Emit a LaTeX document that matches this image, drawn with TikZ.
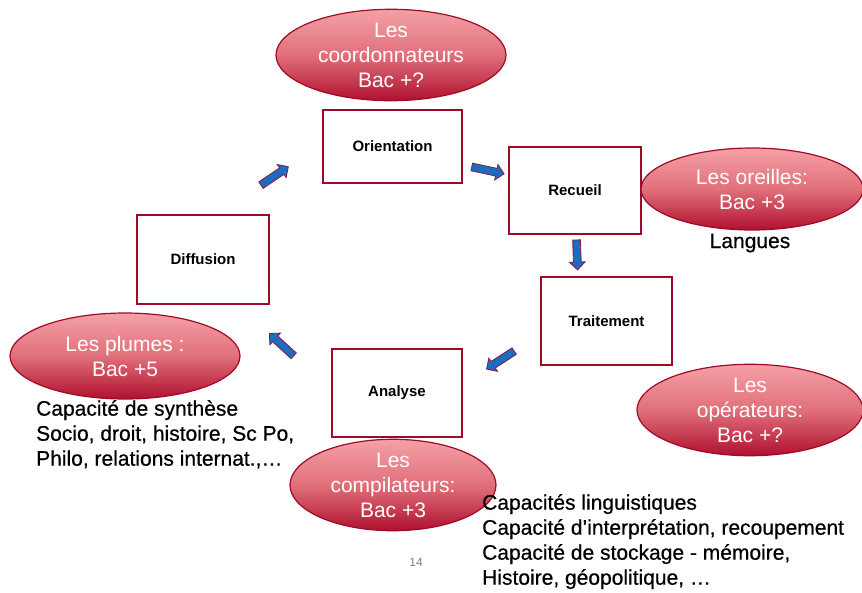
\documentclass[tikz,border=0pt]{standalone}
\usepackage{fontspec}
\setmainfont{Liberation Sans}
\newfontfamily\heavyfont[FakeBold=0.6]{Liberation Sans}
\usetikzlibrary{shapes.geometric,shapes.arrows}
\definecolor{boxred}{HTML}{A00A2A}
\definecolor{elltop}{HTML}{F5A0A6}
\definecolor{ellmid}{HTML}{E0707A}
\definecolor{ellbot}{HTML}{B0102E}
\definecolor{arrblue}{HTML}{1E6CC0}
\definecolor{arredge}{HTML}{8A1A40}
\tikzset{
  stepbox/.style={draw=boxred, line width=2pt, fill=white, inner sep=0pt, font=\bfseries\fontsize{15}{17}\selectfont},
  role/.style={ellipse, draw=boxred, line width=1.2pt, top color=elltop, bottom color=ellbot, middle color=ellmid, inner sep=0pt, align=center, text=white, font=\fontsize{21}{25}\selectfont},
  blk/.style={single arrow, fill=arrblue, draw=arredge, line width=0.8pt, inner sep=3.5pt, single arrow head extend=4pt, single arrow head indent=0pt, minimum height=33pt},
  plain/.style={align=left, inner sep=0pt, anchor=north west, font=\heavyfont\fontsize{21}{25}\selectfont}
}
\begin{document}
\begin{tikzpicture}[x=1pt,y=-1pt]
\useasboundingbox (0,0) rectangle (862,592);
% boxes
\node[stepbox, minimum width=139pt, minimum height=73pt] (orient) at (392.5,146.5) {Orientation};
\node[stepbox, minimum width=132pt, minimum height=87pt] (recueil) at (575,190.5) {Recueil};
\node[stepbox, minimum width=131pt, minimum height=88pt] (trait) at (606.5,321) {Traitement};
\node[stepbox, minimum width=132pt, minimum height=89pt] (diff) at (203,259.5) {Diffusion};
\node[stepbox, minimum width=130pt, minimum height=88pt] (analyse) at (397,393) {Analyse};
% ellipses
\node[role, minimum width=230pt, minimum height=88pt] (coord) at (391,55) {Les\\coordonnateurs\\Bac +?};
\node[role, minimum width=222pt, minimum height=82pt] (oreil) at (752,189) {Les oreilles:\\Bac +3};
\node[role, minimum width=230pt, minimum height=86pt] (plumes) at (125,356) {Les plumes :\\Bac +5};
\node[role, minimum width=226pt, minimum height=86pt] (oper) at (750,410) {Les\\opérateurs:\\Bac +?};
\node[role, minimum width=206pt, minimum height=86pt] (compil) at (393,485) {Les\\compilateurs:\\Bac +3};
% texts
\node[font=\heavyfont\fontsize{21}{25}\selectfont, inner sep=0pt] (lang) at (750,243) {Langues};
\node[plain] (plumetxt) at (36,400) {Capacité de synthèse\\Socio, droit, histoire, Sc Po,\\Philo, relations internat.,…};
\node[plain] (compiltxt) at (482,494) {Capacités linguistiques\\Capacité d’interprétation, recoupement\\Capacité de stockage - mémoire,\\Histoire, géopolitique, …};
\node[text=gray, font=\fontsize{12}{14}\selectfont, inner sep=0pt] (pnum) at (416,562) {14};
% block arrows
\node[blk, rotate=34] (a1) at (273,177) {};
\node[blk, rotate=-12] (a2) at (486,170) {};
\node[blk, rotate=-88, minimum height=30pt] (a3) at (577,253) {};
\node[blk, rotate=-147] (a4) at (502,359) {};
\node[blk, rotate=137.5] (a5) at (283,346) {};
\end{tikzpicture}
\end{document}
